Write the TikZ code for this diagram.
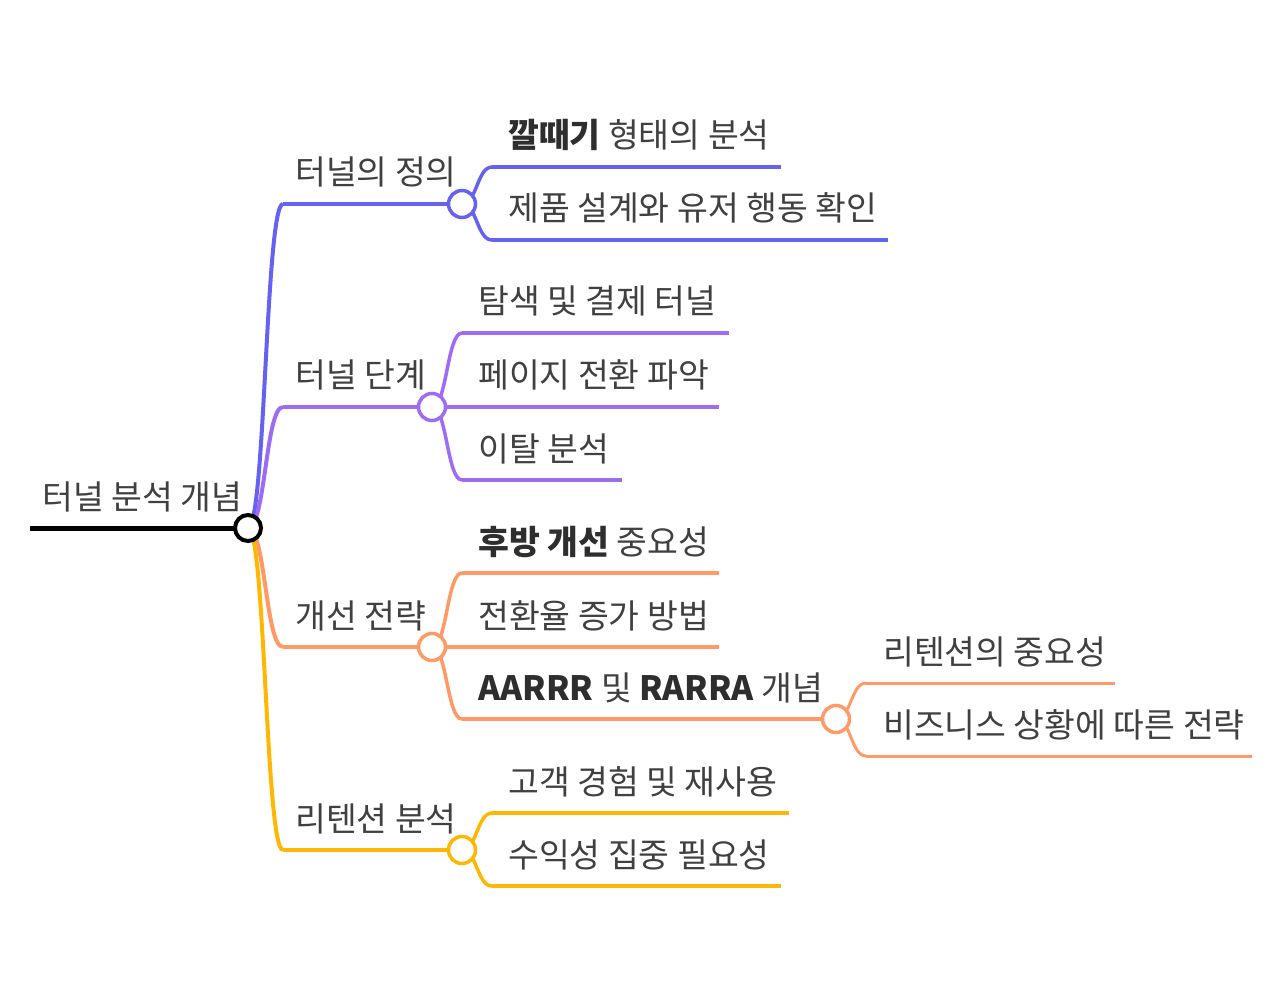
\documentclass[tikz,border=0pt]{standalone}
\usepackage{fontspec}
\setmainfont{Noto Sans CJK KR}
\usetikzlibrary{calc}
\definecolor{cb}{HTML}{6461F3}
\definecolor{cp}{HTML}{9D6BF4}
\definecolor{co}{HTML}{FF9A66}
\definecolor{cy}{HTML}{FFB703}
\definecolor{tx}{HTML}{404040}
\definecolor{tb}{HTML}{2E2E2E}
\tikzset{
  lbl/.style={anchor=base west, inner sep=0pt, text=tx, font=\fontsize{33.5}{40}\selectfont},
  dot/.style={circle, draw, fill=white, minimum size=27pt, inner sep=0pt, line width=3.5pt},
  rootdot/.style={circle, draw=black, fill=white, minimum size=26pt, inner sep=0pt, line width=4pt},
  lw0/.style={line width=5pt},
  lw1/.style={line width=4pt},
  lw2/.style={line width=3.5pt},
  lw3/.style={line width=3pt},
}
\newcommand\hb[1]{\textcolor{tb}{\textbf{#1}}}
\newcommand\mmlink[3][]{%
  \coordinate (lnkmid) at ($(#2)!0.5!(#3)$);
  \draw[#1] (#2) .. controls (#2 -| lnkmid) and (#3 -| lnkmid) .. (#3);}
\newcommand\mmlabel[3]{\node[lbl] (#1) at ($(#2)+(#3,-19)$)}
\begin{document}
\begin{tikzpicture}[x=1pt,y=-1pt]
\useasboundingbox[fill=white] (0,0) rectangle (1280,1000);
% node positions: start of underline (s) and end / circle (e)
\coordinate (rs) at (30,528);  \coordinate (r) at (248,528);
\coordinate (as) at (283,204); \coordinate (a) at (462,204);
\coordinate (a1s) at (492,167); \coordinate (a1e) at (781,167);
\coordinate (a2s) at (492,240); \coordinate (a2e) at (888,240);
\coordinate (bs) at (283,407); \coordinate (b) at (432,407);
\coordinate (b1s) at (462,333); \coordinate (b1e) at (729,333);
\coordinate (b2s) at (462,407); \coordinate (b2e) at (719,407);
\coordinate (b3s) at (462,480); \coordinate (b3e) at (622,480);
\coordinate (cs) at (283,647); \coordinate (c) at (432,647);
\coordinate (c1s) at (462,573); \coordinate (c1e) at (719,573);
\coordinate (c2s) at (462,647); \coordinate (c2e) at (719,647);
\coordinate (c3s) at (462,719); \coordinate (c3) at (836,719);
\coordinate (c31s) at (866,683); \coordinate (c31e) at (1115,683);
\coordinate (c32s) at (866,756); \coordinate (c32e) at (1252,756);
\coordinate (ds) at (283,850); \coordinate (d) at (462,850);
\coordinate (d1s) at (492,813); \coordinate (d1e) at (789,813);
\coordinate (d2s) at (492,886); \coordinate (d2e) at (781,886);

% root
\draw[lw0, black] (rs) -- (r);
% blue branch
\mmlink[lw1, cb]{r}{as}
\draw[lw1, cb] (as) -- (a);
\mmlink[lw2, cb]{a}{a1s} \draw[lw2, cb] (a1s) -- (a1e);
\mmlink[lw2, cb]{a}{a2s} \draw[lw2, cb] (a2s) -- (a2e);
% purple branch
\mmlink[lw1, cp]{r}{bs}
\draw[lw1, cp] (bs) -- (b);
\mmlink[lw2, cp]{b}{b1s} \draw[lw2, cp] (b1s) -- (b1e);
\draw[lw2, cp] (b) -- (b2s) -- (b2e);
\mmlink[lw2, cp]{b}{b3s} \draw[lw2, cp] (b3s) -- (b3e);
% orange branch
\mmlink[lw1, co]{r}{cs}
\draw[lw1, co] (cs) -- (c);
\mmlink[lw2, co]{c}{c1s} \draw[lw2, co] (c1s) -- (c1e);
\draw[lw2, co] (c) -- (c2s) -- (c2e);
\mmlink[lw2, co]{c}{c3s} \draw[lw2, co] (c3s) -- (c3);
\mmlink[lw3, co]{c3}{c31s} \draw[lw3, co] (c31s) -- (c31e);
\mmlink[lw3, co]{c3}{c32s} \draw[lw3, co] (c32s) -- (c32e);
% yellow branch
\mmlink[lw1, cy]{r}{ds}
\draw[lw1, cy] (ds) -- (d);
\mmlink[lw2, cy]{d}{d1s} \draw[lw2, cy] (d1s) -- (d1e);
\mmlink[lw2, cy]{d}{d2s} \draw[lw2, cy] (d2s) -- (d2e);

% circles
\node[rootdot] (rdot) at (r) {};
\node[dot, draw=cb] (adot) at (a) {};
\node[dot, draw=cp] (bdot) at (b) {};
\node[dot, draw=co] (cdot) at (c) {};
\node[dot, draw=co] (c3dot) at (c3) {};
\node[dot, draw=cy] (ddot) at (d) {};

% labels
\mmlabel{tr}{rs}{12} {터널 분석 개념};
\mmlabel{ta}{as}{12} {터널의 정의};
\mmlabel{ta1}{a1s}{16} {\hb{깔때기} 형태의 분석};
\mmlabel{ta2}{a2s}{16} {제품 설계와 유저 행동 확인};
\mmlabel{tb}{bs}{12} {터널 단계};
\mmlabel{tb1}{b1s}{16} {탐색 및 결제 터널};
\mmlabel{tb2}{b2s}{16} {페이지 전환 파악};
\mmlabel{tb3}{b3s}{16} {이탈 분석};
\mmlabel{tc}{cs}{12} {개선 전략};
\mmlabel{tc1}{c1s}{16} {\hb{후방 개선} 중요성};
\mmlabel{tc2}{c2s}{16} {전환율 증가 방법};
\mmlabel{tc3}{c3s}{16} {\hb{AARRR} 및 \hb{RARRA} 개념};
\mmlabel{tc31}{c31s}{17} {리텐션의 중요성};
\mmlabel{tc32}{c32s}{17} {비즈니스 상황에 따른 전략};
\mmlabel{td}{ds}{12} {리텐션 분석};
\mmlabel{td1}{d1s}{16} {고객 경험 및 재사용};
\mmlabel{td2}{d2s}{16} {수익성 집중 필요성};
\end{tikzpicture}
\end{document}
